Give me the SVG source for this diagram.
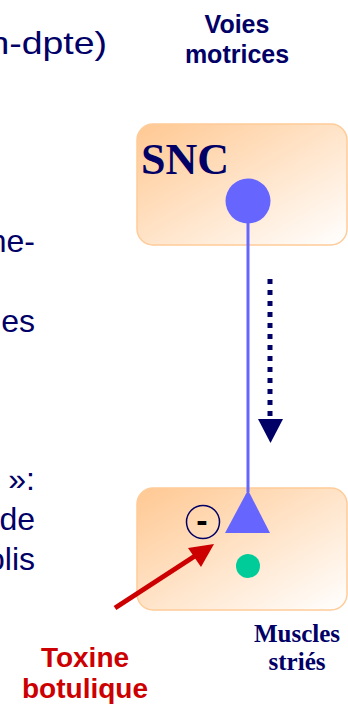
<svg xmlns="http://www.w3.org/2000/svg" width="348" height="707" viewBox="0 0 348 707">
<defs>
<linearGradient id="boxg" x1="0" y1="0" x2="1" y2="1">
<stop offset="0" stop-color="#FFC892"/>
<stop offset="1" stop-color="#FFFFFF"/>
</linearGradient>
</defs>
<style>
.body{font-family:"Liberation Sans",Arial,sans-serif;font-size:32px;fill:#000066}
.lbl{font-family:"Liberation Sans",Arial,sans-serif;font-weight:bold;fill:#000066;text-anchor:middle}
.serif{font-family:"Liberation Serif","Times New Roman",serif;font-weight:bold;fill:#000066}
.box{fill:url(#boxg);stroke:#FFCC99;stroke-width:1.5}
.tox{font-family:"Liberation Sans",Arial,sans-serif;font-weight:bold;font-size:28px;fill:#CC0000;text-anchor:middle}
</style>
<rect width="348" height="707" fill="#FFFFFF"/>
<g id="text-left">
<text class="body" transform="translate(107,54) scale(1.17,1)" x="0" y="0" font-size="33" text-anchor="end">n-dpte)</text>
<text class="body" x="35" y="252" text-anchor="end">ne-</text>
<text class="body" x="35" y="332" text-anchor="end">es</text>
<text class="body" x="35" y="490" text-anchor="end">»:</text>
<text class="body" x="35" y="530" text-anchor="end">de</text>
<text class="body" x="35" y="570" text-anchor="end">olis</text>
</g>
<g id="voies-label">
<text class="lbl" x="237" y="33" font-size="25">Voies</text>
<text class="lbl" x="237" y="63" font-size="25">motrices</text>
</g>
<g id="snc">
<rect class="box" x="137" y="124" width="210" height="121" rx="16"/>
<text class="serif" x="141" y="174" font-size="44">SNC</text>
<circle cx="248" cy="201" r="22.5" fill="#6666FF"/>
</g>
<g id="muscles">
<rect class="box" x="137" y="488" width="210" height="122" rx="16"/>
<polygon points="248,490 225,533 270,533" fill="#6666FF"/>
<circle cx="248" cy="566" r="12" fill="#00CC99"/>
<circle cx="203" cy="522" r="16.5" fill="none" stroke="#000066" stroke-width="1.5"/>
<text x="202" y="532" font-family="'Liberation Sans',Arial,sans-serif" font-weight="bold" font-size="34" fill="#000000" text-anchor="middle">-</text>
<text class="serif" x="297" y="642" font-size="25" text-anchor="middle">Muscles</text>
<text class="serif" x="297" y="670" font-size="25" text-anchor="middle">striés</text>
</g>
<g id="toxine">
<text class="tox" x="85" y="667">Toxine</text>
<text class="tox" x="85" y="698">botulique</text>
</g>
<g id="connectors">
<line x1="248" y1="201" x2="248" y2="492" stroke="#6666FF" stroke-width="3"/>
<line x1="270" y1="279" x2="270" y2="420" stroke="#000066" stroke-width="5" stroke-dasharray="5 6"/>
<polygon points="258,419 283,419 270.5,443" fill="#000066"/>
<line x1="115" y1="608" x2="198" y2="554" stroke="#CC0000" stroke-width="5"/>
<polygon points="214,544 188,548 201,567" fill="#CC0000"/>
</g>
</svg>
